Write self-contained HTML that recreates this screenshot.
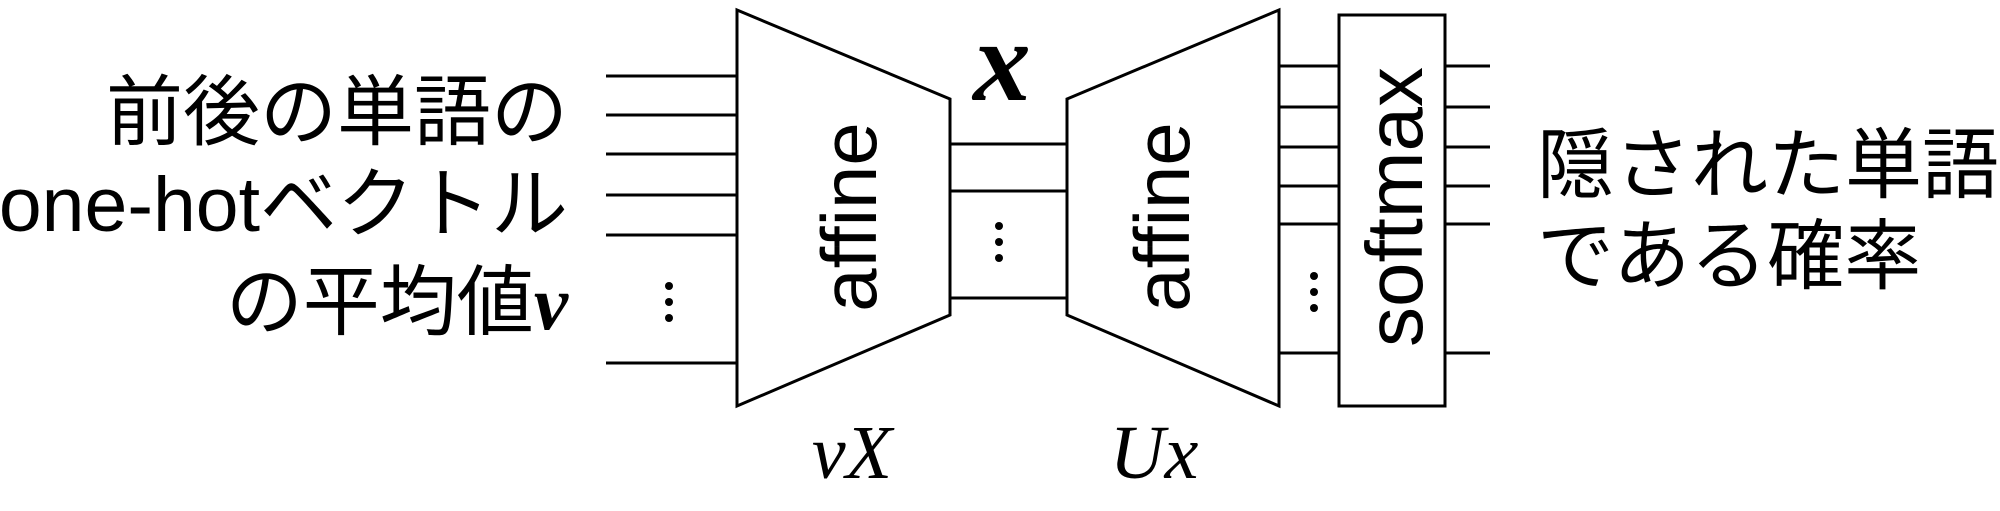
<!DOCTYPE html>
<html><head><meta charset="utf-8"><style>
html,body{margin:0;padding:0;background:#fff;}
svg{display:block}
.jp{font-family:"Liberation Sans","Noto Sans CJK JP",sans-serif;font-size:77px;fill:#000}
.sf{font-family:"Liberation Sans",sans-serif;fill:#000}
.m{font-family:"Liberation Serif",serif;font-style:italic;fill:#000}
</style></head><body>
<svg width="2000" height="511" viewBox="0 0 2000 511" xmlns="http://www.w3.org/2000/svg">
<g stroke="#000" stroke-width="3" fill="none">
<path d="M606 76H737M606 115H737M606 154H737M606 195H737M606 235H737M606 363H737"/>
<polygon points="737,10 950,99 950,315 737,406"/>
<path d="M950 144H1067M950 191H1067M950 298H1067"/>
<polygon points="1067,99 1279,10 1279,406 1067,315"/>
<path d="M1279 66H1339M1279 107H1339M1279 147H1339M1279 186H1339M1279 224H1339M1279 353H1339"/>
<rect x="1339" y="15" width="106" height="391"/>
<path d="M1445 66H1490M1445 107H1490M1445 147H1490M1445 186H1490M1445 224H1490M1445 353H1490"/>
</g>
<g fill="#000">
<circle cx="669" cy="286" r="4"/><circle cx="669" cy="302" r="4"/><circle cx="669" cy="318" r="4"/>
<circle cx="999" cy="226" r="4"/><circle cx="999" cy="242" r="4"/><circle cx="999" cy="258" r="4"/>
<circle cx="1314" cy="276" r="4"/><circle cx="1314" cy="292" r="4"/><circle cx="1314" cy="308" r="4"/>
</g>
<text class="jp" x="568" y="139" text-anchor="end">前後の単語の</text>
<text class="jp" x="568" y="231" text-anchor="end">one-hotベクトル</text>
<text class="jp" x="568" y="329" text-anchor="end">の平均値<tspan class="m" font-weight="bold">v</tspan></text>
<text class="jp" x="1537" y="192">隠された単語</text>
<text class="jp" x="1537" y="283">である確率</text>
<text class="sf" font-size="78" transform="translate(876,217) rotate(-90)" text-anchor="middle">affine</text>
<text class="sf" font-size="78" transform="translate(1189,217) rotate(-90)" text-anchor="middle">affine</text>
<text class="sf" font-size="80" transform="translate(1422,207) rotate(-90)" text-anchor="middle">softmax</text>
<text class="m" font-weight="bold" font-size="115" x="1002" y="100" text-anchor="middle">x</text>
<text class="m" font-size="76" x="852" y="478" text-anchor="middle">vX</text>
<text class="m" font-size="76" x="1154" y="478" text-anchor="middle">Ux</text>
</svg>
</body></html>
